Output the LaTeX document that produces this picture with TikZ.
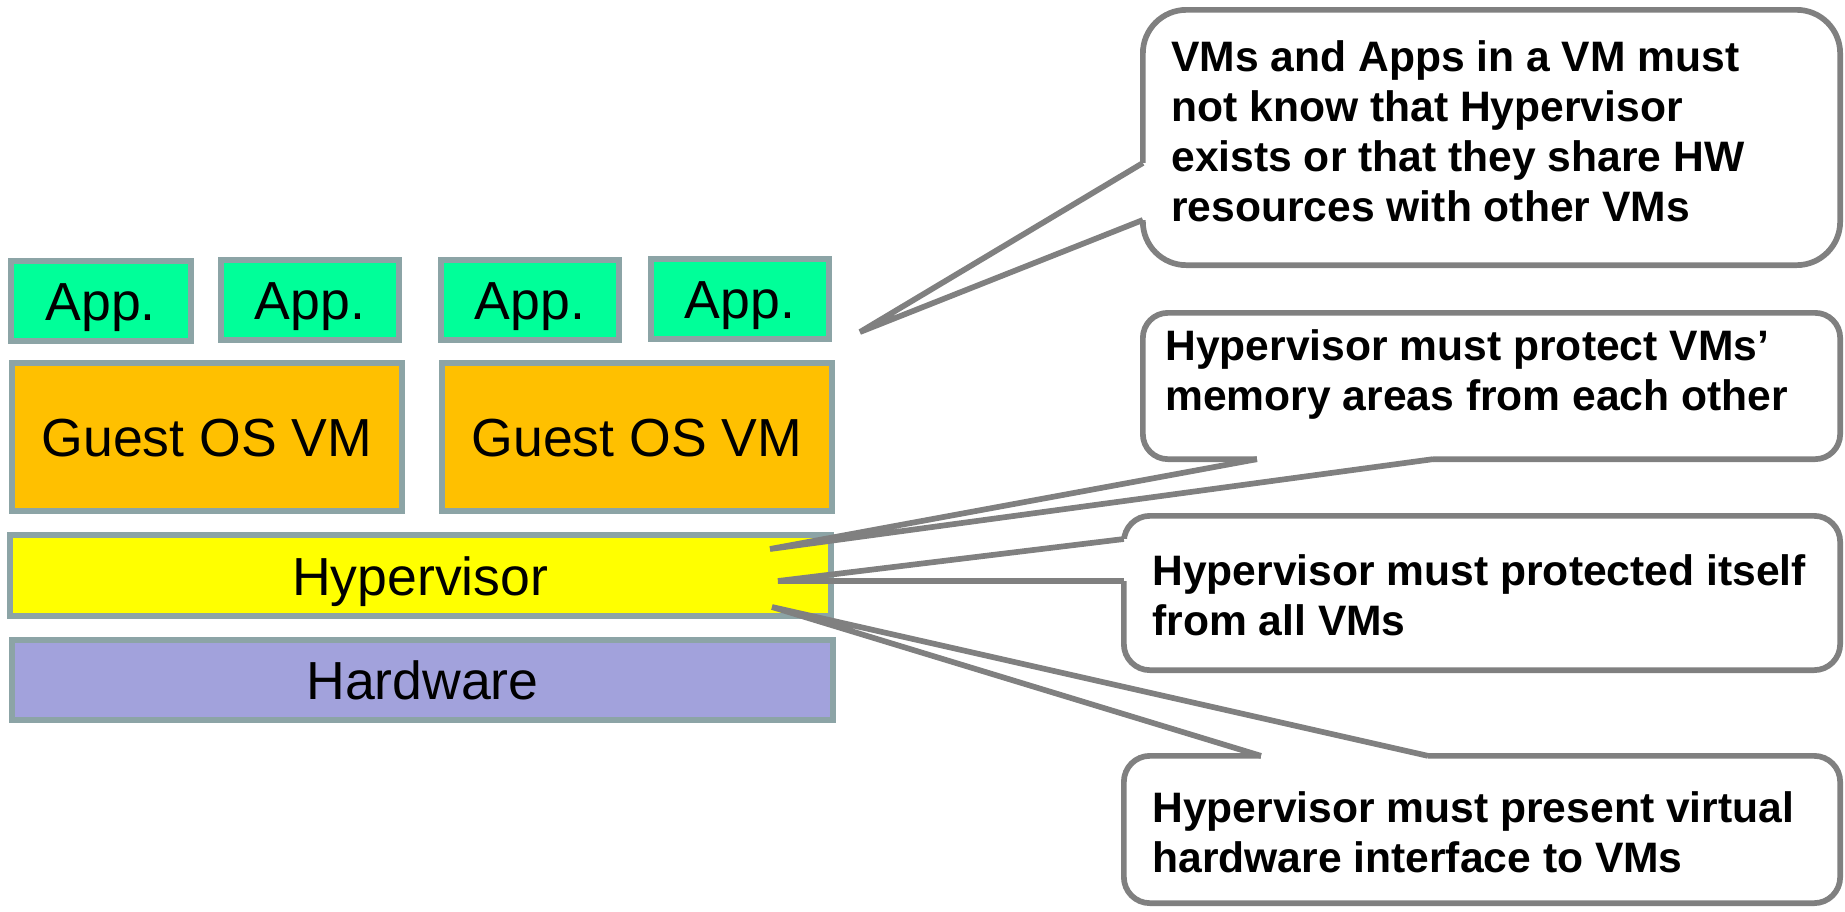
\documentclass[tikz,border=0pt]{standalone}
\usepackage{fontspec}
\setmainfont{Liberation Sans}
\definecolor{appg}{HTML}{00FF99}
\definecolor{osor}{HTML}{FFC000}
\definecolor{hypy}{HTML}{FFFF00}
\definecolor{hwp}{HTML}{A2A2DC}
\definecolor{boxb}{HTML}{8CA4A6}
\definecolor{calb}{HTML}{808080}
\begin{document}
\begin{tikzpicture}[x=0.5pt,y=-0.5pt,
  layer/.style={draw=boxb, line width=3pt, inner sep=0pt,
    font=\fontsize{26.8pt}{30pt}\selectfont, text height=24.5pt, text depth=5pt},
  appbox/.style={layer, fill=appg, minimum width=89pt, minimum height=40pt},
  osbox/.style={layer, fill=osor, minimum width=195pt, minimum height=74pt},
  hypbox/.style={layer, fill=hypy, minimum width=410.75pt, minimum height=40.5pt},
  hwbox/.style={layer, fill=hwp, minimum width=410.5pt, minimum height=40pt},
  callbox/.style={draw=calb, fill=white, line width=2.85pt, inner sep=0pt},
  ptr/.style={draw=calb, line width=2.85pt},
  ctext/.style={anchor=base west, inner sep=0pt,
    font=\fontsize{21.3pt}{25pt}\selectfont\bfseries}]
\useasboundingbox (0,0) rectangle (1845,911);

% layered stack
\node[appbox, minimum width=89.75pt] (app1) at (100.75,301) {App.};
\node[appbox] (app2) at (310,300) {App.};
\node[appbox] (app3) at (530,300) {App.};
\node[appbox] (app4) at (740,298.5) {App.};
\node[osbox] (os1) at (207,437) {Guest OS VM};
\node[osbox] (os2) at (637,437) {Guest OS VM};
\node[hypbox] (hyp) at (420.25,575.5) {Hypervisor};
\node[hwbox] (hw) at (422.5,680) {Hardware};

% callout boxes
\node[callbox, minimum width=348.65pt, minimum height=127.65pt, rounded corners=21.75pt] (c1) at (1491.5,137.5) {};
\node[callbox, minimum width=348.65pt, minimum height=73.15pt, rounded corners=12.5pt] (c2) at (1491.5,386) {};
\node[callbox, minimum width=358.15pt, minimum height=77.15pt, rounded corners=13pt] (c3) at (1482,593) {};
\node[callbox, minimum width=358.15pt, minimum height=73.65pt, rounded corners=13pt] (c4) at (1482,829.5) {};

% pointer tips and bases
\coordinate (tip1) at (860,332);
\coordinate (tip2) at (770,549);
\coordinate (tip3) at (778,581);
\coordinate (tip4) at (772,607);
\coordinate (c1a) at (1142.85,163);
\coordinate (c1b) at (1142.85,220);
\coordinate (c2a) at (1257,459.15);
\coordinate (c2b) at (1433,459.15);
\coordinate (c3a) at (1123.85,539);
\coordinate (c3b) at (1123.85,581);
\coordinate (c4a) at (1261,755.85);
\coordinate (c4b) at (1428,755.85);

% open the borders where pointers attach
\fill[white] ([xshift=-3pt]c1a) rectangle ([xshift=3pt]c1b);
\fill[white] ([yshift=-3pt]c2a) rectangle ([yshift=3pt]c2b);
\fill[white] ([xshift=-3pt]c3a) rectangle ([xshift=3pt]c3b);
\fill[white] ([yshift=-3pt]c4a) rectangle ([yshift=3pt]c4b);

% pointers
\draw[ptr] (c1a) -- (tip1) -- (c1b);
\draw[ptr] (c2a) -- (tip2) -- (c2b);
\draw[ptr] (c3a) -- (tip3) -- (c3b);
\draw[ptr] (c4a) -- (tip4) -- (c4b);

% callout texts
\node[ctext] (txt1) at (1171,71.7) {\vtop{\hbox{VMs and Apps in a VM must}\hbox{not know that Hypervisor}\hbox{exists or that they share HW}\hbox{resources with other VMs}}};
\node[ctext] (txt2) at (1165,360) {\vtop{\hbox{Hypervisor must protect VMs’}\hbox{memory areas from each other}}};
\node[ctext] (txt3) at (1152,585) {\vtop{\hbox{Hypervisor must protected itself}\hbox{from all VMs}}};
\node[ctext] (txt4) at (1152,822) {\vtop{\hbox{Hypervisor must present virtual}\hbox{hardware interface to VMs}}};
\end{tikzpicture}
\end{document}
